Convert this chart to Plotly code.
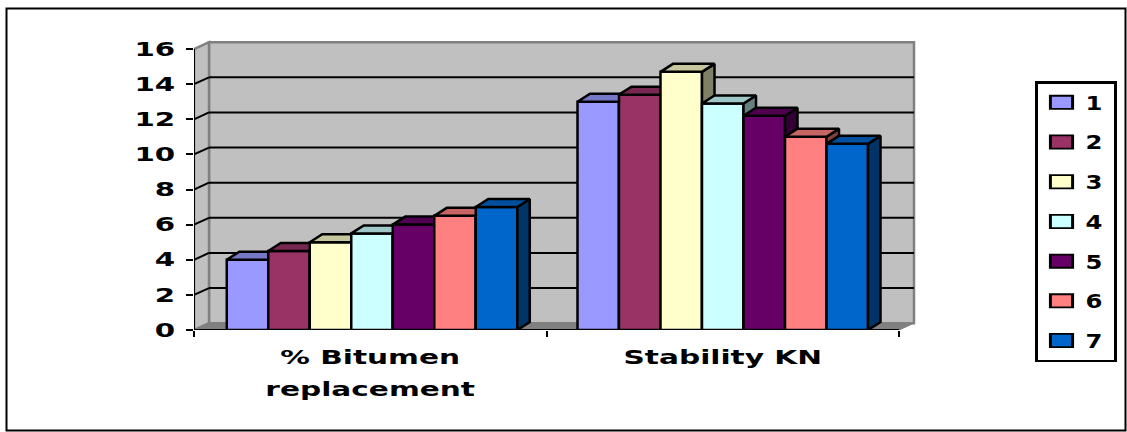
import plotly.graph_objects as go

# Mix design results per trial mix
categories = ["% Bitumen<br>replacement", "Stability KN"]
mix_names = ["1", "2", "3", "4", "5", "6", "7"]
bitumen_replacement = [4, 4.5, 5, 5.5, 6, 6.5, 7]
stability_kn = [13, 13.4, 14.7, 12.9, 12.2, 11, 10.6]
mix_colors = ["#9999FF", "#993366", "#FFFFCC", "#CCFFFF", "#660066", "#FF8080", "#0066CC"]
y_ticks = [0, 2, 4, 6, 8, 10, 12, 14, 16]

W, H = 1127, 432

# Pixel layout of the plot box
LEFT, RIGHT, TOP, BOTTOM = 194, 916, 38, 330
PX_PER_CAT = 352.5
PX_PER_UNIT = (BOTTOM - 49) / 16
X_MAX = (RIGHT - LEFT) / PX_PER_CAT
Y_MAX = (BOTTOM - TOP) / PX_PER_UNIT

# Oblique projection offsets, in data units
wall_dx, wall_dy = 15 / PX_PER_CAT, 6.8 / PX_PER_UNIT
bar_dx, bar_dy = 12.5 / PX_PER_CAT, 8 / PX_PER_UNIT
bar_w = 41.5 / PX_PER_CAT
centers = [0.505, 1.5]
EDGE = 2.5


def shade(hex_color, k):
    r, g, b = (int(hex_color[i:i + 2], 16) for i in (1, 3, 5))
    return f"rgb({r * k:.0f},{g * k:.0f},{b * k:.0f})"


def polygon(pts, fill, line, width=2):
    path = "M" + "L".join(f"{x},{y}" for x, y in pts) + "Z"
    return dict(type="path", path=path, xref="x", yref="y", fillcolor=fill,
                line=dict(color=line, width=width), layer="below")


def segment(x0, y0, x1, y1, color="#000000", width=2):
    return dict(type="line", x0=x0, y0=y0, x1=x1, y1=y1, xref="x", yref="y",
                line=dict(color=color, width=width), layer="below")


fig = go.Figure()

# Axis lines and walls of the box
shapes = [
    polygon([(0, 0), (wall_dx, wall_dy), (2 + wall_dx, wall_dy), (2, 0)], "#808080", "#808080", 1),
    polygon([(wall_dx, wall_dy), (2 + wall_dx, wall_dy), (2 + wall_dx, 16 + wall_dy),
             (wall_dx, 16 + wall_dy)], "#C0C0C0", "#808080", 2.5),
    polygon([(0, 0), (wall_dx, wall_dy), (wall_dx, 16 + wall_dy), (0, 16)], "#C0C0C0", "#808080", 2.5),
]
for v in y_ticks[1:-1]:
    shapes.append(segment(wall_dx, v + wall_dy, 2 + wall_dx, v + wall_dy))
    shapes.append(segment(0, v, wall_dx, v + wall_dy))
shapes += [segment(0, 0, 0, 16), segment(0, 0, 2, 0)]
shapes.append(dict(type="rect", xref="paper", yref="paper", x0=6.5 / W, x1=1125.5 / W,
                   y0=1 - 430.5 / H, y1=1 - 8.5 / H, line=dict(color="#000000", width=2),
                   fillcolor="rgba(0,0,0,0)", layer="below"))

axis_layout = {}
for k, name in enumerate(mix_names):
    suffix = "" if k == 0 else str(k + 1)
    color = mix_colors[k]
    offset = (k - 3) * bar_w
    values = [bitumen_replacement[k], stability_kn[k]]
    xs = [c + offset for c in centers]

    # Each mix sits on its own overlay axes so later bars paint over earlier depth faces
    if k > 0:
        axis_layout[f"xaxis{k + 1}"] = dict(overlaying="x", range=[0, X_MAX], visible=False,
                                            fixedrange=True, automargin=False)
        axis_layout[f"yaxis{k + 1}"] = dict(overlaying="y", range=[0, Y_MAX], visible=False,
                                            fixedrange=True, automargin=False)

    top_x, top_y, side_x, side_y = [], [], [], []
    for x, v in zip(xs, values):
        x0, x1 = x - bar_w / 2, x + bar_w / 2
        top_x += [x0, x0 + bar_dx, x1 + bar_dx, x1, x0, None]
        top_y += [v, v + bar_dy, v + bar_dy, v, v, None]
        side_x += [x1, x1 + bar_dx, x1 + bar_dx, x1, x1, None]
        side_y += [v, v + bar_dy, bar_dy, 0, v, None]

    fig.add_trace(go.Bar(x=xs, y=values, width=bar_w, name=name, legendgroup=name,
                         marker=dict(color=color, line=dict(color="#000000", width=EDGE)),
                         xaxis=f"x{suffix}", yaxis=f"y{suffix}", hoverinfo="skip"))
    fig.add_trace(go.Scatter(x=side_x, y=side_y, mode="lines", fill="toself", fillcolor=shade(color, 0.5),
                             line=dict(color="#000000", width=EDGE), showlegend=False, legendgroup=name,
                             xaxis=f"x{suffix}", yaxis=f"y{suffix}", hoverinfo="skip"))
    fig.add_trace(go.Scatter(x=top_x, y=top_y, mode="lines", fill="toself", fillcolor=shade(color, 0.78),
                             line=dict(color="#000000", width=EDGE), showlegend=False, legendgroup=name,
                             xaxis=f"x{suffix}", yaxis=f"y{suffix}", hoverinfo="skip"))

FONT = "DejaVu Sans"
fig.update_layout(
    width=W, height=H, autosize=False,
    margin=dict(l=0, r=0, t=0, b=0, pad=0, autoexpand=False),
    paper_bgcolor="#FFFFFF", plot_bgcolor="rgba(0,0,0,0)",
    font=dict(family=FONT, color="#000000"),
    barmode="overlay",
    shapes=shapes,
    xaxis=dict(domain=[LEFT / W, RIGHT / W], range=[0, X_MAX], showgrid=False, zeroline=False,
               showline=False, tickmode="array", tickvals=[0.5, 1.5], ticktext=categories,
               ticks="", tickfont=dict(family=FONT, size=20, weight="bold"),
               ticklabelstandoff=13, fixedrange=True, automargin=False,
               minor=dict(tickmode="array", tickvals=[0, 1, 2], ticks="outside", ticklen=6,
                          tickwidth=2, tickcolor="#000000", showgrid=False)),
    yaxis=dict(domain=[1 - BOTTOM / H, 1 - TOP / H], range=[0, Y_MAX], showgrid=False, zeroline=False,
               showline=False, tickmode="array", tickvals=y_ticks, ticks="outside", ticklen=7,
               tickwidth=2, tickcolor="#000000", tickfont=dict(family=FONT, size=19, weight="bold"),
               ticklabelstandoff=7, fixedrange=True, automargin=False),
    legend=dict(x=1035 / W, y=1 - 81 / H, xanchor="left", yanchor="top",
                bordercolor="#000000", borderwidth=2.5, bgcolor="#FFFFFF",
                font=dict(family=FONT, size=19, weight="bold"),
                tracegroupgap=12, itemwidth=38, itemclick=False, itemdoubleclick=False),
    **axis_layout,
)

# Widens the bold labels, swatches and legend box after the plot has been drawn
widen_text = """
var gd = document.getElementById('{plot_id}');
function widen(el, sx, mode) {
  if (el.dataset.wide) return;
  el.dataset.wide = '1';
  var b = el.getBBox();
  var o = mode === 'right' ? b.x + b.width : mode === 'left' ? b.x : b.x + b.width / 2;
  var t = el.getAttribute('transform') || '';
  el.setAttribute('transform', t + ' translate(' + o + ',0) scale(' + sx + ',1) translate(' + (-o) + ',0)');
}
function applyAll() {
  gd.querySelectorAll('.xtick text tspan.line').forEach(function (s, i) {
    if (i > 0) s.setAttribute('dy', '1.6em');
  });
  gd.querySelectorAll('.xtick text').forEach(function (t) { widen(t, 1.48, 'center'); });
  gd.querySelectorAll('.ytick text').forEach(function (t) { widen(t, 1.54, 'right'); });
  gd.querySelectorAll('.legend .legendtext').forEach(function (t) { widen(t, 1.28, 'left'); });
  gd.querySelectorAll('.legend .legendbar path, .legend .legendpoints path').forEach(function (p) {
    if (p.dataset.wide) return;
    p.dataset.wide = '1';
    var t = p.getAttribute('transform') || '';
    p.setAttribute('transform', t + ' scale(1.85,1.1)');
    p.style.strokeWidth = '1.6px';
  });
  gd.querySelectorAll('.legend > .bg, .legend > rect.bg').forEach(function (r) {
    r.setAttribute('width', '79');
  });
}
applyAll();
gd.on('plotly_afterplot', applyAll);
setTimeout(applyAll, 100);
"""

fig.write_html("out.html", post_script=widen_text, config={"displayModeBar": False})
